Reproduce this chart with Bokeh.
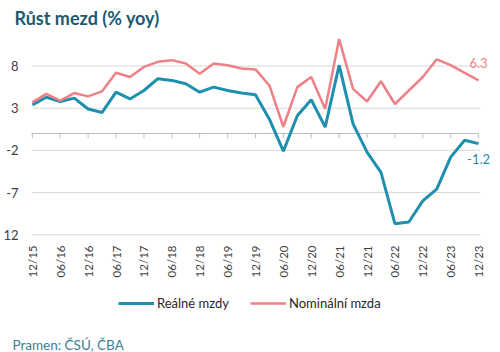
import numpy as np
from bokeh.plotting import figure
from bokeh.models import (ColumnDataSource, FixedTicker, Label, Legend, LegendItem, Range1d)
from bokeh.core.properties import value
from bokeh.embed import file_html
from bokeh.resources import INLINE

# ---- data (quarterly, 12/15 .. 12/23) ----
tick_labels = ["12/15", "06/16", "12/16", "06/17", "12/17", "06/18", "12/18", "06/19",
               "12/19", "06/20", "12/20", "06/21", "12/21", "06/22", "12/22", "06/23", "12/23"]
real_wages = [3.4, 4.3, 3.8, 4.2, 2.9, 2.5, 4.9, 4.1, 5.1, 6.5, 6.3, 5.9, 4.9, 5.5, 5.1, 4.8,
              4.6, 1.7, -2.1, 2.1, 4.0, 0.75, 8.1, 1.15, -2.2, -4.6, -10.7, -10.5, -8.0, -6.6,
              -2.8, -0.8, -1.2]
nominal_wages = [3.7, 4.7, 3.9, 4.8, 4.4, 5.0, 7.2, 6.7, 7.9, 8.5, 8.7, 8.3, 7.1, 8.3, 8.1, 7.7,
                 7.6, 5.7, 0.8, 5.5, 6.7, 2.9, 11.2, 5.3, 3.8, 6.2, 3.5, 5.1, 6.7, 8.8, 8.1, 7.2,
                 6.3]
y_ticks = [8, 3, -2, -7, -12]
y_tick_text = {8: "8", 3: "3", -2: "-2", -7: "-7", -12: "12"}
series_names = ["Reálné mzdy", "Nominální mzda"]
title_text = "Růst mezd (% yoy)"
source_text = "Pramen: ČSÚ, ČBA"

BLUE = "#1f8fae"
PINK = "#ef8088"
FONT = "Lato"
W, H = 500, 352

# layout geometry (pixels): the plotting frame covers the canvas, texts are placed around the data area
PX_PER_Q = 14.0          # horizontal pixels per quarter
X_PIX0 = 30.0            # pixel of first quarter
PX_PER_UNIT = 8.43       # vertical pixels per percentage point
ZERO_PIX = 133.0         # pixel row of 0 %
RIGHT_BORDER = 5

n = len(real_wages)
x = np.arange(n)
tick_pos = list(range(0, n, 2))
src = ColumnDataSource(dict(x=x, real=real_wages, nom=nominal_wages))

frame_w = W - RIGHT_BORDER
X0 = -X_PIX0 / PX_PER_Q
X1 = X0 + frame_w / PX_PER_Q
Y1 = ZERO_PIX / PX_PER_UNIT
Y0 = Y1 - H / PX_PER_UNIT

p = figure(width=W, height=H, output_backend="svg", toolbar_location=None,
           x_range=Range1d(X0, X1), y_range=Range1d(Y0, Y1),
           min_border_left=0, min_border_right=RIGHT_BORDER, min_border_top=0, min_border_bottom=0)
p.outline_line_color = None
p.border_fill_color = "white"
p.xgrid.grid_line_color = None
p.ygrid.grid_line_color = None

# y axis: labels pulled into the left margin of the canvas
p.yaxis.ticker = FixedTicker(ticks=y_ticks)
p.yaxis.major_label_overrides = y_tick_text
p.yaxis.axis_line_color = None
p.yaxis.major_tick_out = 0
p.yaxis.major_tick_in = 0
p.yaxis.minor_tick_out = 0
p.yaxis.minor_tick_in = 0
p.yaxis.major_label_standoff = -16
p.yaxis.major_label_text_font = FONT
p.yaxis.major_label_text_font_size = "13px"
p.yaxis.major_label_text_color = "#404040"

# x axis: labels under the -12 grid line
p.xaxis.ticker = FixedTicker(ticks=tick_pos)
p.xaxis.major_label_overrides = {t: l for t, l in zip(tick_pos, tick_labels)}
p.xaxis.major_label_orientation = np.pi / 2
p.xaxis.axis_line_color = None
p.xaxis.major_tick_out = 0
p.xaxis.major_tick_in = 0
p.xaxis.minor_tick_out = 0
p.xaxis.minor_tick_in = 0
p.xaxis.major_label_standoff = -107
p.xaxis.major_label_text_font = FONT
p.xaxis.major_label_text_font_size = "11.5px"
p.xaxis.major_label_text_color = "#404040"

# horizontal grid lines spanning the data area
g_x0 = -1 / PX_PER_Q
g_x1 = (n - 1) + 2 / PX_PER_Q
gsrc = ColumnDataSource(dict(y=y_ticks, x0=[g_x0] * len(y_ticks), x1=[g_x1] * len(y_ticks)))
p.segment(x0="x0", y0="y", x1="x1", y1="y", source=gsrc, line_color="#d9d9d9", line_width=1)

# zero axis line with tick marks
p.segment(x0=[g_x0], y0=[0], x1=[n - 1], y1=[0], line_color="#bfbfbf", line_width=1)
tsrc = ColumnDataSource(dict(x=tick_pos, y0=[0] * len(tick_pos), y1=[-0.55] * len(tick_pos)))
p.segment(x0="x", y0="y0", x1="x", y1="y1", source=tsrc, line_color="#bfbfbf", line_width=1)

r_real = p.line("x", "real", source=src, line_color=BLUE, line_width=3)
r_nom = p.line("x", "nom", source=src, line_color=PINK, line_width=2.5)

last = n - 1
p.text(x=[last], y=[nominal_wages[last]], text=[f"{nominal_wages[last]:.1f}"],
       text_color=PINK, text_font=value(FONT), text_font_size="13px",
       text_align="center", text_baseline="middle", y_offset=-17)
p.text(x=[last], y=[real_wages[last]], text=[f"{real_wages[last]:.1f}"],
       text_color=BLUE, text_font=value(FONT), text_font_size="13px",
       text_align="center", text_baseline="middle", y_offset=15)

legend = Legend(items=[LegendItem(label=series_names[0], renderers=[r_real]),
                       LegendItem(label=series_names[1], renderers=[r_nom])],
                orientation="horizontal", location=(116, 39),
                glyph_width=36, glyph_height=20, label_standoff=3, spacing=21,
                padding=0, margin=0, border_line_color=None, background_fill_alpha=0,
                label_text_font=FONT, label_text_font_size="13px", label_text_color="#262626")
p.add_layout(legend)

p.add_layout(Label(x=12, y=H - 17, x_units="screen", y_units="screen", text=title_text,
                   text_font=FONT, text_font_size="18px", text_font_style="bold",
                   text_color="#1c5a70", text_baseline="alphabetic"))
p.add_layout(Label(x=10, y=H - 344, x_units="screen", y_units="screen", text=source_text,
                   text_font=FONT, text_font_size="13.5px", text_color="#3a7f96",
                   text_baseline="alphabetic"))

open("out.html", "w").write(file_html(p, INLINE))
